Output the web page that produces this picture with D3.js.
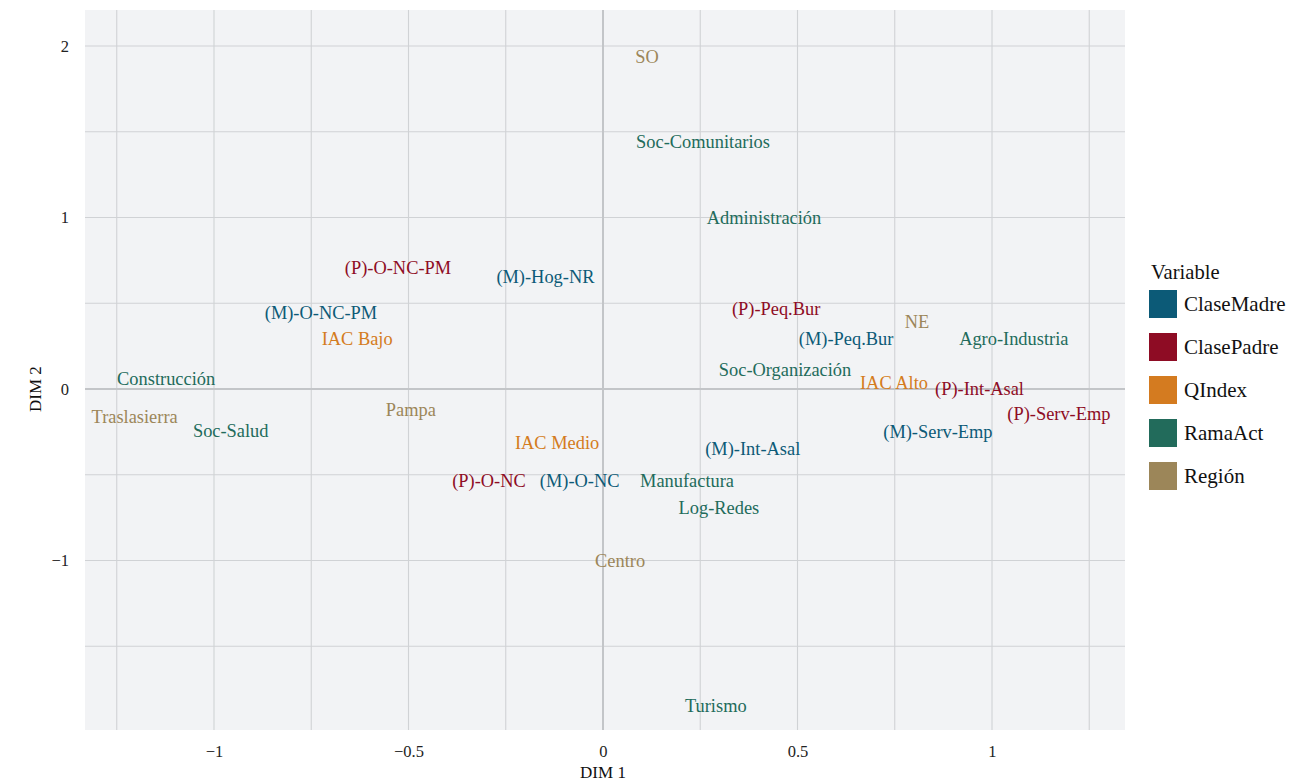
<!DOCTYPE html>
<html>
<head>
<meta charset="utf-8">
<script src="https://cdn.jsdelivr.net/npm/d3@7"></script>
<style>
  body { margin: 0; background: #fff; }
  text { font-family: "Liberation Serif", "DejaVu Serif", serif; }
</style>
</head>
<body>
<div id="chart"></div>
<script>
// category labels of the MCA map
var labels = [
  "SO", "Soc-Comunitarios", "Administración", "(P)-O-NC-PM", "(M)-Hog-NR",
  "(M)-O-NC-PM", "IAC Bajo", "Construcción", "Traslasierra", "Pampa",
  "Soc-Salud", "IAC Medio", "(M)-Int-Asal", "(P)-O-NC", "(M)-O-NC",
  "Manufactura", "Log-Redes", "Centro", "(P)-Peq.Bur", "NE",
  "(M)-Peq.Bur", "Agro-Industria", "Soc-Organización", "IAC Alto", "(P)-Int-Asal",
  "(P)-Serv-Emp", "(M)-Serv-Emp", "Turismo"
];
var dim1 = [
  0.113, 0.257, 0.414, -0.527, -0.148,
  -0.725, -0.632, -1.123, -1.204, -0.494,
  -0.957, -0.118, 0.385, -0.293, -0.060,
  0.216, 0.298, 0.044, 0.445, 0.807,
  0.625, 1.056, 0.468, 0.748, 0.968,
  1.172, 0.861, 0.290
];
var dim2 = [
  1.936, 1.440, 0.997, 0.708, 0.655,
  0.443, 0.293, 0.059, -0.163, -0.122,
  -0.245, -0.313, -0.352, -0.535, -0.535,
  -0.535, -0.692, -1.005, 0.466, 0.389,
  0.292, 0.290, 0.111, 0.033, 0.000,
  -0.148, -0.252, -1.848
];
var variable = [
  "Región", "RamaAct", "RamaAct", "ClasePadre", "ClaseMadre",
  "ClaseMadre", "QIndex", "RamaAct", "Región", "Región",
  "RamaAct", "QIndex", "ClaseMadre", "ClasePadre", "ClaseMadre",
  "RamaAct", "RamaAct", "Región", "ClasePadre", "Región",
  "ClaseMadre", "RamaAct", "RamaAct", "QIndex", "ClasePadre",
  "ClasePadre", "ClaseMadre", "RamaAct"
];

var groups = ["ClaseMadre", "ClasePadre", "QIndex", "RamaAct", "Región"];
var groupColors = ["#0c5a77", "#8e0c24", "#d47b20", "#226b5b", "#9c8659"];

var xMajor = [-1, -0.5, 0, 0.5, 1];
var xMinor = [-1.25, -0.75, -0.25, 0.25, 0.75, 1.25];
var yMajor = [-1, 0, 1, 2];
var yMinor = [-1.5, -0.5, 0.5, 1.5];

var W = 1295, H = 784;
var panel = {left: 85, right: 1125, top: 10, bottom: 730};

var x = d3.scaleLinear().domain([-1.3316, 1.3419]).range([panel.left, panel.right]);
var y = d3.scaleLinear().domain([-1.988, 2.210]).range([panel.bottom, panel.top]);
var color = d3.scaleOrdinal().domain(groups).range(groupColors);

var svg = d3.select("#chart").append("svg")
  .attr("width", W)
  .attr("height", H);

//panel background
svg.append("rect")
  .attr("x", panel.left)
  .attr("y", panel.top)
  .attr("width", panel.right - panel.left)
  .attr("height", panel.bottom - panel.top)
  .attr("fill", "#f2f3f5");

//grid lines
var grid = svg.append("g").attr("class", "grid");
grid.selectAll("line.vx")
  .data(xMinor.concat(xMajor))
  .enter().append("line")
  .attr("x1", function(d) { return x(d); })
  .attr("x2", function(d) { return x(d); })
  .attr("y1", panel.top)
  .attr("y2", panel.bottom)
  .attr("stroke", "#d0d2d5")
  .attr("stroke-width", 1.1);
grid.selectAll("line.hy")
  .data(yMinor.concat(yMajor))
  .enter().append("line")
  .attr("x1", panel.left)
  .attr("x2", panel.right)
  .attr("y1", function(d) { return y(d); })
  .attr("y2", function(d) { return y(d); })
  .attr("stroke", "#d0d2d5")
  .attr("stroke-width", 1.1);

//reference lines at zero
svg.append("line")
  .attr("x1", x(0)).attr("x2", x(0))
  .attr("y1", panel.top).attr("y2", panel.bottom)
  .attr("stroke", "#c3c5c8").attr("stroke-width", 2);
svg.append("line")
  .attr("x1", panel.left).attr("x2", panel.right)
  .attr("y1", y(0)).attr("y2", y(0))
  .attr("stroke", "#c3c5c8").attr("stroke-width", 2);

//point labels
var idx = d3.range(labels.length);
svg.append("g").attr("class", "labels")
  .selectAll("text")
  .data(idx)
  .enter().append("text")
  .attr("x", function(i) { return x(dim1[i]); })
  .attr("y", function(i) { return y(dim2[i]); })
  .attr("dy", "0.33em")
  .attr("text-anchor", "middle")
  .attr("font-size", 18.4)
  .attr("fill", function(i) { return color(variable[i]); })
  .text(function(i) { return labels[i]; });

//axes
var fmt = function(d) { return String(d).replace("-", "\u2212"); };
var xAxis = svg.append("g")
  .attr("transform", "translate(0," + panel.bottom + ")")
  .call(d3.axisBottom(x).tickValues(xMajor).tickFormat(fmt).tickSize(0).tickPadding(15));
var yAxis = svg.append("g")
  .attr("transform", "translate(" + panel.left + ",0)")
  .call(d3.axisLeft(y).tickValues(yMajor).tickFormat(fmt).tickSize(0).tickPadding(16));
[xAxis, yAxis].forEach(function(a) {
  a.select(".domain").remove();
  a.selectAll("text")
    .attr("font-family", "Liberation Serif")
    .attr("font-size", 16.5)
    .attr("fill", "#222");
});

//axis titles
svg.append("text")
  .attr("x", x(0))
  .attr("y", 778)
  .attr("text-anchor", "middle")
  .attr("font-size", 17)
  .attr("fill", "#111")
  .text("DIM 1");
svg.append("text")
  .attr("transform", "translate(35," + y(0) + ") rotate(-90)")
  .attr("dy", "0.33em")
  .attr("text-anchor", "middle")
  .attr("font-size", 17)
  .attr("fill", "#111")
  .text("DIM 2");

//legend
var legend = svg.append("g").attr("class", "legend");
legend.append("text")
  .attr("x", 1151)
  .attr("y", 272)
  .attr("dy", "0.33em")
  .attr("font-size", 20.6)
  .attr("fill", "#111")
  .text("Variable");
legend.selectAll("rect")
  .data(groups)
  .enter().append("rect")
  .attr("x", 1149)
  .attr("y", function(d, i) { return 290 + i * 43; })
  .attr("width", 28)
  .attr("height", 28)
  .attr("fill", function(d) { return color(d); });
legend.selectAll("text.item")
  .data(groups)
  .enter().append("text")
  .attr("class", "item")
  .attr("x", 1184)
  .attr("y", function(d, i) { return 304 + i * 43; })
  .attr("dy", "0.33em")
  .attr("font-size", 21)
  .attr("fill", "#111")
  .text(function(d) { return d; });
</script>
</body>
</html>
